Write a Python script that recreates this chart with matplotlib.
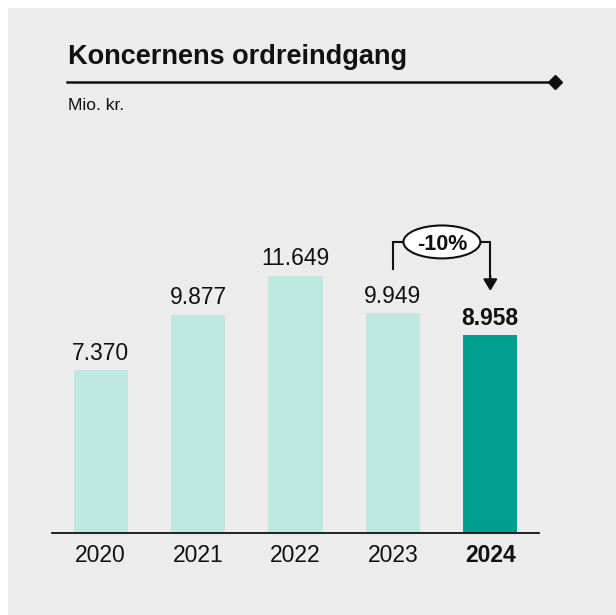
import matplotlib
matplotlib.use("Agg")
import matplotlib.pyplot as plt
from matplotlib.patches import Rectangle, Ellipse, FancyArrowPatch
from matplotlib.lines import Line2D

plt.rcParams['font.family'] = ['Liberation Sans', 'DejaVu Sans']

years = ["2020", "2021", "2022", "2023", "2024"]
values = [7370, 9877, 11649, 9949, 8958]
labels = ["7.370", "9.877", "11.649", "9.949", "8.958"]
change_label = "-10%"
title = "Koncernens ordreindgang"
unit = "Mio. kr."

BG = "#EBECEB"
LIGHT = "#BFE8E3"
DARK = "#009E8F"

W, H = 616, 615
fig = plt.figure(figsize=(W / 100, H / 100), dpi=100)
fig.patch.set_facecolor("white")

def fx(px):
    return px / W

def fy(py):
    return 1 - py / H

# grey panel
fig.add_artist(Rectangle((fx(8), 0), 1 - fx(8), fy(8), transform=fig.transFigure,
                         facecolor=BG, edgecolor="none", zorder=0))

# title, rule, unit
fig.text(fx(68), fy(64), title, fontsize=19.5, fontweight="bold", color="#111111",
         ha="left", va="baseline")
fig.add_artist(Line2D([fx(67), fx(553)], [fy(81.5), fy(81.5)], transform=fig.transFigure,
                      color="#111111", lw=1.8))
fig.add_artist(Line2D([fx(555)], [fy(81.5)], transform=fig.transFigure, marker="D",
                      markersize=7, color="#111111", linestyle="none"))
fig.text(fx(68), fy(110), unit, fontsize=12.5, color="#111111", ha="left", va="baseline")

# axes
ax = fig.add_axes([fx(52), fy(533), fx(539) - fx(52), fy(150) - fy(533)])
ax.set_facecolor("none")
x = list(range(len(years)))
colors = [LIGHT] * (len(years) - 1) + [DARK]
ax.bar(x, values, width=0.555, color=colors, zorder=2)
ax.set_xlim(-0.5, 4.5)
ax.set_ylim(0, 17330)

for i, (v, lab) in enumerate(zip(values, labels)):
    bold = i == len(values) - 1
    ax.annotate(lab, (i, v), xytext=(0, 7.5), textcoords="offset points",
                ha="center", va="baseline", fontsize=16.5,
                fontweight="bold" if bold else "normal", color="#111111")

ax.set_xticks(x)
ax.set_xticklabels(years, fontsize=16.5, color="#111111")
ax.get_xticklabels()[-1].set_fontweight("bold")
ax.tick_params(axis="x", length=0, pad=8)
ax.set_yticks([])
for s in ["top", "left", "right"]:
    ax.spines[s].set_visible(False)
ax.spines["bottom"].set_linewidth(1.3)
ax.spines["bottom"].set_color("#111111")

# change annotation
y_br = 13170
y_left0 = 11950
y_tip = 10950
ell_cx, ell_w, ell_h = 3.503, 0.79, 1490
ax.plot([3, 3, ell_cx - ell_w / 2], [y_left0, y_br, y_br], color="#111111", lw=1.5,
        solid_joinstyle="miter", zorder=3)
ax.plot([ell_cx + ell_w / 2, 4, 4], [y_br, y_br, y_tip + 400], color="#111111", lw=1.5,
        solid_joinstyle="miter", zorder=3)
ax.add_patch(FancyArrowPatch((4, y_tip + 700), (4, y_tip),
                             arrowstyle="-|>,head_length=0.5,head_width=0.3",
                             mutation_scale=14, color="#111111", lw=1.5,
                             shrinkA=0, shrinkB=0, zorder=3))
ax.add_patch(Ellipse((ell_cx, y_br), ell_w, ell_h, facecolor="white", edgecolor="#111111",
                     lw=1.5, zorder=4))
ax.text(ell_cx, y_br, change_label, ha="center", va="center_baseline", fontsize=15.5,
        fontweight="bold", color="#111111", zorder=5)

fig.savefig("out.png", dpi=100, facecolor=fig.get_facecolor())
